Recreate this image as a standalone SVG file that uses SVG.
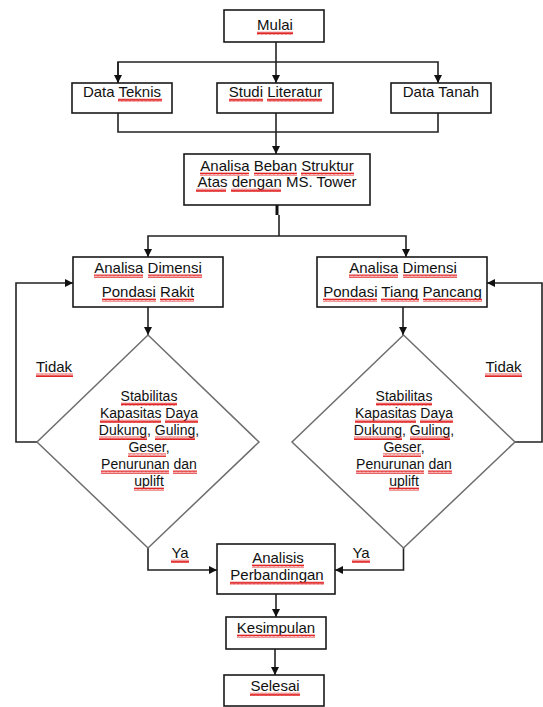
<svg xmlns="http://www.w3.org/2000/svg" width="543" height="707" viewBox="0 0 543 707">
<style>
.box{fill:#fff;stroke:#1a1a1a;stroke-width:1.6}
.dia{fill:#fff;stroke:#6e6e6e;stroke-width:1.5}
.con{fill:none;stroke:#222;stroke-width:1.6}
.t{font-family:"Liberation Sans",Arial,sans-serif;font-size:15px;fill:#111;text-anchor:middle}
.s{font-size:14px}
.sq{fill:url(#sq)}
</style>
<defs>
<marker id="arr" markerUnits="userSpaceOnUse" markerWidth="9" markerHeight="9" refX="8" refY="4" orient="auto">
<path d="M0,0 L8,4 L0,8 z" fill="#111"/>
</marker>
<pattern id="sq" patternUnits="userSpaceOnUse" width="4" height="3.5">
<path d="M0,2.8 L1,0.7 L2,2.8 L3,0.7 L4,2.8" fill="none" stroke="#e02020" stroke-width="1"/>
</pattern>
</defs>
<g id="connectors">
<path class="con" d="M276,42 V83" marker-end="url(#arr)"/>
<path class="con" d="M118,83 V62 H438 V83" marker-end="url(#arr)"/>
<path class="con" d="M118,62 V83" marker-end="url(#arr)"/>
<path class="con" d="M118,113 V132 H438 V113"/>
<path class="con" d="M276,113 V154" marker-end="url(#arr)"/>
<path d="M277,196 V215" stroke="#111" stroke-width="3"/>
<path class="con" d="M279,215 V236"/>
<path class="con" d="M279,236 H148 V257" marker-end="url(#arr)"/>
<path class="con" d="M279,236 H406 V257" marker-end="url(#arr)"/>
<path class="con" d="M148,307 V335" marker-end="url(#arr)"/>
<path class="con" d="M403,307 V335" marker-end="url(#arr)"/>
<path class="con" d="M37,442 H16 V283 H73" marker-end="url(#arr)"/>
<path class="con" d="M515,442 H542 V283 H487" marker-end="url(#arr)"/>
<path class="con" d="M148,548 V570 H217" marker-end="url(#arr)"/>
<path class="con" d="M403.5,548 V570 H335" marker-end="url(#arr)"/>
<path class="con" d="M276,594 V617" marker-end="url(#arr)"/>
<path class="con" d="M275,649 V675" marker-end="url(#arr)"/>
</g>
<g id="mulai">
<rect class="box" x="224" y="10" width="100" height="32"/>
<text class="t" x="275" y="30">Mulai</text>
<rect class="sq" x="257" y="31.5" width="36" height="3.5"/>
</g>
<g id="data-teknis">
<rect class="box" x="72" y="83" width="100" height="30"/>
<text class="t" x="122" y="97">Data Teknis</text>
<rect class="sq" x="118" y="98.5" width="44" height="3.5"/>
</g>
<g id="studi-literatur">
<rect class="box" x="217" y="83" width="116" height="30"/>
<text class="t" x="275.5" y="97">Studi Literatur</text>
<rect class="sq" x="229" y="98.5" width="34" height="3.5"/>
<rect class="sq" x="267" y="98.5" width="55" height="3.5"/>
</g>
<g id="data-tanah">
<rect class="box" x="391" y="83" width="100" height="30"/>
<text class="t" x="441" y="97">Data Tanah</text>
</g>
<g id="analisa-beban">
<rect class="box" x="184" y="154" width="186" height="51"/>
<text class="t" x="277" y="171">Analisa Beban Struktur</text>
<text class="t" x="277" y="187">Atas dengan MS. Tower</text>
<rect class="sq" x="200" y="172.5" width="49" height="3.5"/>
<rect class="sq" x="254" y="172.5" width="43" height="3.5"/>
<rect class="sq" x="301" y="172.5" width="53" height="3.5"/>
<rect class="sq" x="196" y="188.5" width="30" height="3.5"/>
<rect class="sq" x="231" y="188.5" width="50" height="3.5"/>
</g>
<g id="dimensi-rakit">
<rect class="box" x="73" y="257" width="150" height="50"/>
<text class="t" x="148" y="273">Analisa Dimensi</text>
<text class="t" x="148" y="297">Pondasi Rakit</text>
<rect class="sq" x="94" y="274.5" width="49" height="3.5"/>
<rect class="sq" x="148" y="274.5" width="54" height="3.5"/>
<rect class="sq" x="102" y="298.5" width="54" height="3.5"/>
<rect class="sq" x="160" y="298.5" width="34" height="3.5"/>
</g>
<g id="dimensi-tiang">
<rect class="box" x="317" y="257" width="170" height="50"/>
<text class="t" x="403" y="273">Analisa Dimensi</text>
<text class="t" x="402.5" y="297">Pondasi Tiang Pancang</text>
<rect class="sq" x="349" y="274.5" width="49" height="3.5"/>
<rect class="sq" x="403" y="274.5" width="54" height="3.5"/>
<rect class="sq" x="323" y="298.5" width="54" height="3.5"/>
<rect class="sq" x="381" y="298.5" width="38" height="3.5"/>
<rect class="sq" x="423" y="298.5" width="59" height="3.5"/>
</g>
<g id="stabilitas-kiri">
<polygon class="dia" points="148,335 259,442 148,548 37,442"/>
<text class="t s" x="149" y="401">Stabilitas</text>
<text class="t s" x="149" y="418">Kapasitas Daya</text>
<text class="t s" x="149" y="435">Dukung, Guling,</text>
<text class="t s" x="149" y="452">Geser,</text>
<text class="t s" x="149" y="469">Penurunan dan</text>
<text class="t s" x="149" y="486">uplift</text>
<rect class="sq" x="121" y="402.5" width="56" height="3.5"/>
<rect class="sq" x="100" y="419.5" width="61" height="3.5"/>
<rect class="sq" x="165" y="419.5" width="33" height="3.5"/>
<rect class="sq" x="99" y="436.5" width="48" height="3.5"/>
<rect class="sq" x="155" y="436.5" width="40" height="3.5"/>
<rect class="sq" x="128" y="453.5" width="38" height="3.5"/>
<rect class="sq" x="101" y="470.5" width="68" height="3.5"/>
<rect class="sq" x="173" y="470.5" width="24" height="3.5"/>
<rect class="sq" x="134" y="487.5" width="30" height="3.5"/>
</g>
<g id="stabilitas-kanan">
<polygon class="dia" points="403.5,335 515,442 403.5,548 292,442"/>
<text class="t s" x="404" y="401">Stabilitas</text>
<text class="t s" x="404" y="418">Kapasitas Daya</text>
<text class="t s" x="404" y="435">Dukung, Guling,</text>
<text class="t s" x="404" y="452">Geser,</text>
<text class="t s" x="404" y="469">Penurunan dan</text>
<text class="t s" x="404" y="486">uplift</text>
<rect class="sq" x="376" y="402.5" width="56" height="3.5"/>
<rect class="sq" x="355" y="419.5" width="61" height="3.5"/>
<rect class="sq" x="420" y="419.5" width="33" height="3.5"/>
<rect class="sq" x="354" y="436.5" width="48" height="3.5"/>
<rect class="sq" x="410" y="436.5" width="40" height="3.5"/>
<rect class="sq" x="383" y="453.5" width="38" height="3.5"/>
<rect class="sq" x="356" y="470.5" width="68" height="3.5"/>
<rect class="sq" x="428" y="470.5" width="24" height="3.5"/>
<rect class="sq" x="389" y="487.5" width="30" height="3.5"/>
</g>
<g id="labels">
<text class="t" x="54" y="372">Tidak</text>
<rect class="sq" x="36" y="373.5" width="37" height="3.5"/>
<text class="t" x="503.5" y="372">Tidak</text>
<rect class="sq" x="485" y="373.5" width="37" height="3.5"/>
<text class="t" x="180" y="558">Ya</text>
<rect class="sq" x="171" y="559.5" width="18" height="3.5"/>
<text class="t" x="361" y="558">Ya</text>
<rect class="sq" x="352" y="559.5" width="18" height="3.5"/>
</g>
<g id="analisis-perbandingan">
<rect class="box" x="217" y="544" width="118" height="50"/>
<text class="t" x="278" y="563">Analisis</text>
<text class="t" x="277" y="580">Perbandingan</text>
<rect class="sq" x="252" y="564.5" width="52" height="3.5"/>
<rect class="sq" x="230" y="581.5" width="94" height="3.5"/>
</g>
<g id="kesimpulan">
<rect class="box" x="226" y="617" width="100" height="32"/>
<text class="t" x="276" y="633">Kesimpulan</text>
<rect class="sq" x="237" y="634.5" width="78" height="3.5"/>
</g>
<g id="selesai">
<rect class="box" x="224" y="675" width="100" height="31"/>
<text class="t" x="275" y="691">Selesai</text>
<rect class="sq" x="250" y="692.5" width="50" height="3.5"/>
</g>
</svg>
